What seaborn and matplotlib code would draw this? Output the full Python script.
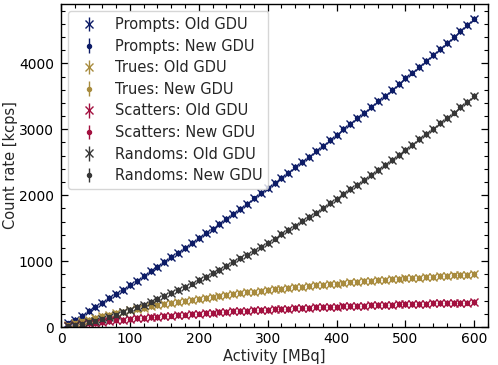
import numpy as np
import pandas as pd
import seaborn as sns
import matplotlib
matplotlib.use("Agg")
import matplotlib.pyplot as plt
from matplotlib.ticker import AutoMinorLocator, MultipleLocator

activity = [10, 20, 30, 40, 50, 60, 70, 80, 90, 100,
            110, 120, 130, 140, 150, 160, 170, 180, 190, 200,
            210, 220, 230, 240, 250, 260, 270, 280, 290, 300,
            310, 320, 330, 340, 350, 360, 370, 380, 390, 400,
            410, 420, 430, 440, 450, 460, 470, 480, 490, 500,
            510, 520, 530, 540, 550, 560, 570, 580, 590, 600]

prompts_old = [54, 113, 175, 238, 302, 367, 434, 500, 568, 636,
               705, 774, 844, 914, 985, 1056, 1128, 1200, 1273, 1346,
               1420, 1494, 1569, 1644, 1720, 1796, 1872, 1950, 2027, 2106,
               2184, 2263, 2343, 2423, 2504, 2585, 2666, 2748, 2832, 2914,
               2998, 3082, 3167, 3252, 3337, 3424, 3510, 3598, 3685, 3772,
               3861, 3950, 4040, 4130, 4220, 4312, 4403, 4495, 4586, 4680]
prompts_new = [54, 113, 175, 238, 302, 367, 434, 500, 568, 636,
               705, 774, 844, 914, 985, 1056, 1128, 1200, 1273, 1346,
               1420, 1494, 1569, 1644, 1720, 1796, 1872, 1950, 2027, 2106,
               2184, 2263, 2343, 2423, 2504, 2585, 2666, 2748, 2832, 2914,
               2998, 3082, 3167, 3252, 3337, 3424, 3510, 3598, 3685, 3772,
               3861, 3950, 4040, 4130, 4220, 4312, 4403, 4495, 4586, 4680]

trues_old = [30, 60, 88, 114, 140, 165, 189, 211, 233, 255,
             275, 295, 314, 332, 350, 367, 384, 400, 416, 431,
             446, 460, 474, 487, 500, 513, 525, 537, 549, 560,
             571, 582, 592, 603, 613, 622, 632, 641, 650, 659,
             667, 676, 684, 692, 700, 708, 715, 723, 730, 737,
             744, 751, 757, 764, 770, 776, 782, 788, 794, 800]
trues_new = [30, 60, 88, 114, 140, 165, 189, 211, 233, 255,
             275, 295, 314, 332, 350, 367, 384, 400, 416, 431,
             446, 460, 474, 487, 500, 513, 525, 537, 549, 560,
             571, 582, 592, 603, 613, 622, 632, 641, 650, 659,
             667, 676, 684, 692, 700, 708, 715, 723, 730, 737,
             744, 751, 757, 764, 770, 776, 782, 788, 794, 800]

scatters_old = [15, 29, 42, 55, 67, 79, 91, 101, 112, 122,
                132, 141, 150, 159, 167, 175, 183, 190, 198, 205,
                212, 218, 225, 231, 237, 243, 249, 254, 260, 265,
                270, 275, 280, 284, 289, 294, 298, 302, 306, 310,
                314, 318, 322, 326, 329, 333, 336, 339, 343, 346,
                349, 352, 355, 358, 361, 364, 367, 369, 372, 375]
scatters_new = [15, 29, 42, 55, 67, 79, 91, 101, 112, 122,
                132, 141, 150, 159, 167, 175, 183, 190, 198, 205,
                212, 218, 225, 231, 237, 243, 249, 254, 260, 265,
                270, 275, 280, 284, 289, 294, 298, 302, 306, 310,
                314, 318, 322, 326, 329, 333, 336, 339, 343, 346,
                349, 352, 355, 358, 361, 364, 367, 369, 372, 375]

randoms_old = [9, 25, 45, 69, 95, 124, 155, 188, 223, 260,
               298, 338, 380, 423, 468, 514, 561, 610, 660, 711,
               763, 816, 871, 926, 983, 1040, 1099, 1159, 1219, 1281,
               1343, 1407, 1471, 1536, 1602, 1669, 1737, 1805, 1876, 1945,
               2017, 2088, 2161, 2234, 2308, 2383, 2459, 2536, 2613, 2690,
               2768, 2848, 2927, 3008, 3089, 3172, 3254, 3337, 3420, 3505]
randoms_new = [9, 25, 45, 69, 95, 124, 155, 188, 223, 260,
               298, 338, 380, 423, 468, 514, 561, 610, 660, 711,
               763, 816, 871, 926, 983, 1040, 1099, 1159, 1219, 1281,
               1343, 1407, 1471, 1536, 1602, 1669, 1737, 1805, 1876, 1945,
               2017, 2088, 2161, 2234, 2308, 2383, 2459, 2536, 2613, 2690,
               2768, 2848, 2927, 3008, 3089, 3172, 3254, 3337, 3420, 3505]

count_error = 45  # kcps

series_names = ["Prompts", "Trues", "Scatters", "Randoms"]
series_old = [prompts_old, trues_old, scatters_old, randoms_old]
series_new = [prompts_new, trues_new, scatters_new, randoms_new]
colors = ["#0c1b66", "#a88b3d", "#a3103f", "#363636"]

sns.set_style("ticks")
plt.rcParams["font.family"] = ["DejaVu Sans"]
plt.rcParams["font.size"] = 10.5

fig = plt.figure(figsize=(4.98, 3.65), dpi=100)
ax = fig.add_axes([0.1225, 0.104, 0.8575, 0.885])

for name, old, new, col in zip(series_names, series_old, series_new, colors):
    ax.errorbar(activity, old, yerr=count_error, fmt="x", color=col,
                markersize=5.6, markeredgewidth=1.0, elinewidth=1.0,
                label=f"{name}: Old GDU")
    ax.errorbar(activity, new, yerr=count_error, fmt="o", color=col,
                markersize=2.9, elinewidth=1.0,
                label=f"{name}: New GDU")

ax.set_xlim(0, 620)
ax.set_ylim(0, 4900)
ax.xaxis.set_major_locator(MultipleLocator(100))
ax.yaxis.set_major_locator(MultipleLocator(1000))
ax.xaxis.set_minor_locator(AutoMinorLocator(5))
ax.yaxis.set_minor_locator(AutoMinorLocator(5))
ax.tick_params(which="both", direction="in", top=True, right=True,
               labelsize=10, colors="black")
ax.tick_params(which="major", length=5, width=0.9)
ax.tick_params(which="minor", length=2.8, width=0.8)
ax.tick_params(axis="y", which="major", pad=5)
for sp in ax.spines.values():
    sp.set_color("black")
    sp.set_linewidth(1.0)

ax.set_xlabel("Activity [MBq]", fontsize=10.5, labelpad=2)
ax.set_ylabel("Count rate [kcps]", fontsize=10.5)
ax.yaxis.set_label_coords(-0.100, 0.5)

ax.legend(loc="upper left", frameon=True, fontsize=10.5, framealpha=0.8,
          edgecolor="0.8", fancybox=True, labelspacing=0.45)

fig.savefig("out.png", dpi=100)
